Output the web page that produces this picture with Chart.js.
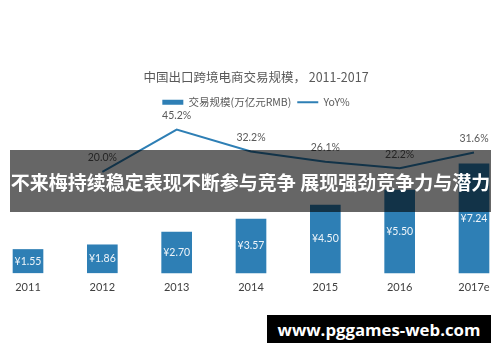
<!DOCTYPE html>
<html>
<head>
<meta charset="utf-8">
<script src="https://cdn.jsdelivr.net/npm/chart.js@4"></script>
<style>
  html, body { margin: 0; padding: 0; background: #fff; }
  #wrap { position: relative; width: 500px; height: 362px; overflow: hidden; }
  #chart { position: absolute; left: 0; top: 0; }
  #banner {
    position: absolute; left: 10px; top: 150px; width: 481px; height: 62px;
    background: rgba(0, 0, 0, 0.6); color: #fff;
    font: bold 19px "Noto Sans CJK SC", sans-serif;
    display: flex; align-items: center; justify-content: center; white-space: nowrap;
  }
  #mark {
    position: absolute; left: 267px; top: 315px; width: 224px; height: 28px;
    background: #000; color: #fff;
    font: bold 16.8px "Open Sans", "DejaVu Sans", sans-serif;
    display: flex; align-items: center; justify-content: center;
  }
</style>
</head>
<body>
<div id="wrap">
  <canvas id="chart" width="500" height="362"></canvas>
  <div id="banner">不来梅持续稳定表现不断参与竞争 展现强劲竞争力与潜力</div>
  <div id="mark">www.pggames-web.com</div>
</div>
<script>
// ─── Data ────────────────────────────────────────────────────────────────────
const YEARS = ['2011', '2012', '2013', '2014', '2015', '2016', '2017e'];
const VOLUME = [1.55, 1.86, 2.70, 3.57, 4.50, 5.50, 7.24];       // 万亿元RMB
const YOY = [null, 20.0, 45.2, 32.2, 26.1, 22.2, 31.6];          // %

const BLUE = '#2e7fb5';
const GREY = '#595959';
const CJK = '"Noto Sans CJK SC", sans-serif';
const NUM = 'Lato, "Noto Sans CJK SC", sans-serif';

// ─── Value labels: ¥ inside bars, % above line points ───────────────────────
const valueLabels = {
  id: 'valueLabels',
  afterDatasetsDraw(chart) {
    const { ctx } = chart;
    ctx.save();
    ctx.textAlign = 'center';
    ctx.textBaseline = 'middle';
    ctx.font = '10.5px ' + NUM;

    chart.getDatasetMeta(0).data.forEach((bar, i) => {
      ctx.fillStyle = '#eef4f9';
      ctx.fillText('¥' + VOLUME[i].toFixed(2), bar.x, (bar.y + bar.base) / 2);
    });

    chart.getDatasetMeta(1).data.forEach((pt, i) => {
      if (YOY[i] == null) return;
      ctx.fillStyle = GREY;
      ctx.fillText(YOY[i].toFixed(1) + '%', pt.x, pt.y - 14);
    });
    ctx.restore();
  },
};

new Chart(document.getElementById('chart'), {
  data: {
    labels: YEARS,
    datasets: [
      {
        type: 'bar',
        label: '交易规模(万亿元RMB)',
        data: VOLUME,
        backgroundColor: BLUE,
        barThickness: 30,
        yAxisID: 'y',
        pointStyle: 'rect',
        clip: false,
      },
      {
        type: 'line',
        label: 'YoY%',
        data: YOY,
        borderColor: BLUE,
        backgroundColor: BLUE,
        borderWidth: 2,
        pointRadius: 0,
        tension: 0,
        yAxisID: 'y2',
        pointStyle: 'line',
        clip: false,
      },
    ],
  },
  options: {
    responsive: false,
    animation: false,
    layout: { padding: { top: 62, left: 28, right: 16, bottom: 68 } },
    plugins: {
      title: {
        display: true,
        text: '中国出口跨境电商交易规模， 2011-2017',
        color: GREY,
        font: { family: CJK, size: 12.5, weight: 'normal' },
        padding: { top: 8, bottom: 6 },
      },
      legend: {
        display: true,
        labels: {
          usePointStyle: true,
          pointStyleWidth: 21,
          boxHeight: 5,
          color: GREY,
          padding: 6,
          font: { family: CJK, size: 10.5 },
        },
      },
      tooltip: { enabled: false },
    },
    scales: {
      x: {
        offset: false,
        grid: { display: false },
        border: { display: false },
        ticks: { color: '#404040', font: { family: NUM, size: 11 }, padding: 0 },
      },
      y: { display: false, min: 0, max: 10.32 },
      // invisible right axis: only keeps a 10px gutter so the plot ends at x=474
      y2: {
        position: 'right',
        min: -40.25,
        max: 52.44,
        grid: { display: false },
        border: { display: false },
        ticks: { display: false },
        afterFit(scale) { scale.width = 10; },
      },
    },
  },
  plugins: [valueLabels],
});
</script>
</body>
</html>
